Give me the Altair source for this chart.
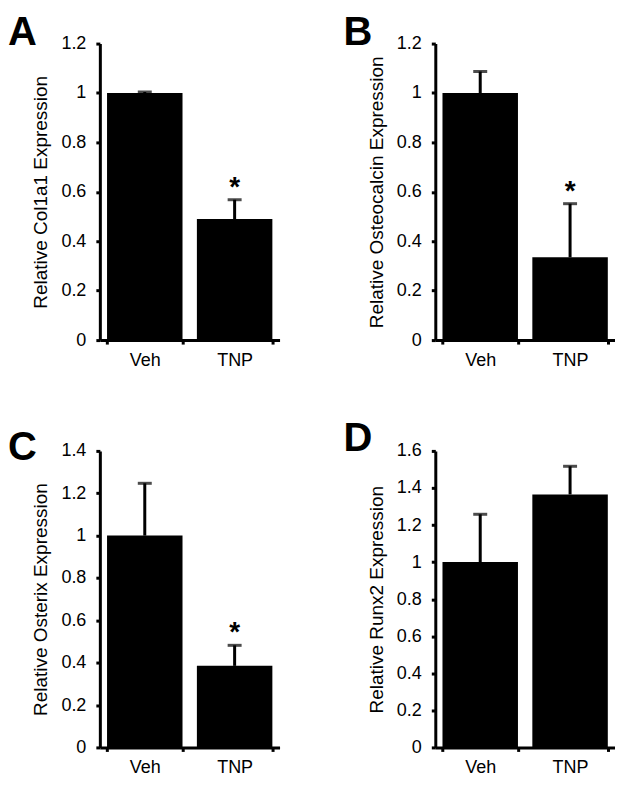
import altair as alt
import pandas as pd

groups = ["Veh", "TNP"]

letters = ["A", "B", "C", "D"]
y_titles = [
    "Relative Col1a1 Expression",
    "Relative Osteocalcin Expression",
    "Relative Osterix Expression",
    "Relative Runx2 Expression",
]
means = [
    [1.0, 0.49],
    [1.0, 0.335],
    [1.0, 0.385],
    [1.0, 1.365],
]
errors = [
    [0.004, 0.078],
    [0.087, 0.217],
    [0.247, 0.097],
    [0.258, 0.152],
]
stars = [
    ["", "*"],
    ["", "*"],
    ["", "*"],
    ["", ""],
]
y_max = [1.2, 1.2, 1.4, 1.6]
y_ticks = [
    [0, 0.2, 0.4, 0.6, 0.8, 1, 1.2],
    [0, 0.2, 0.4, 0.6, 0.8, 1, 1.2],
    [0, 0.2, 0.4, 0.6, 0.8, 1, 1.2, 1.4],
    [0, 0.2, 0.4, 0.6, 0.8, 1, 1.2, 1.4, 1.6],
]

FONT = "Liberation Sans"
# panel-letter placement relative to each plot's top-left corner (pixels)
letter_dx = [-92, -92, -92, -92]
letter_dy = [1, 1, 9, 0]


def panel(i):
    df = pd.DataFrame({
        "group": groups,
        "mean": means[i],
        "upper": [m + e for m, e in zip(means[i], errors[i])],
        "star": stars[i],
    })
    x = alt.X(
        "group:N",
        sort=groups,
        scale=alt.Scale(paddingInner=0.16, paddingOuter=0.08),
        axis=alt.Axis(title=None, labelAngle=0, tickBand="extent",
                      labelPadding=7, tickSize=4),
    )
    yscale = alt.Scale(domain=[0, y_max[i]], nice=False)
    y = alt.Y(
        "mean:Q",
        scale=yscale,
        axis=alt.Axis(title=y_titles[i], values=y_ticks[i], format="~g",
                      tickCount=len(y_ticks[i]) + 1,
                      grid=False, tickSize=4, labelPadding=10, titlePadding=10,
                      labelOverlap=False),
    )
    base = alt.Chart(df)
    bars = base.mark_bar(color="black").encode(x=x, y=y)
    stem = base.mark_rule(color="black", strokeWidth=3).encode(
        x=alt.X("group:N", sort=groups), y="mean:Q", y2="upper:Q")
    cap = base.mark_tick(color="black", size=14, thickness=3).encode(
        x=alt.X("group:N", sort=groups), y="upper:Q")
    star = base.mark_text(color="black", fontSize=28, fontWeight="bold",
                          font=FONT, baseline="bottom", dy=2).encode(
        x=alt.X("group:N", sort=groups), y="upper:Q", text="star:N")
    letter = alt.Chart(pd.DataFrame({"letter": [letters[i]]})).mark_text(
        color="black", fontSize=40, fontWeight="bold", font=FONT,
        align="left", baseline="alphabetic",
    ).encode(
        x=alt.value(letter_dx[i]), y=alt.value(letter_dy[i]), text="letter:N")
    return alt.layer(bars, stem, cap, star, letter).properties(
        width=180,
        height=297,
    )


chart = alt.vconcat(
    alt.hconcat(panel(0), panel(1), spacing=64),
    alt.hconcat(panel(2), panel(3), spacing=64),
    spacing=50,
).properties(
    padding={"left": 0, "top": 4, "right": 0, "bottom": 0}
).configure_view(stroke=None).configure_axis(
    labelFont=FONT, titleFont=FONT, labelFontSize=18, titleFontSize=19,
    titleFontWeight="normal", labelColor="black", titleColor="black",
    domainColor="black", domainWidth=3, tickColor="black", tickWidth=3,
)

chart.save("out.html", embed_options={"renderer": "svg", "actions": False})
